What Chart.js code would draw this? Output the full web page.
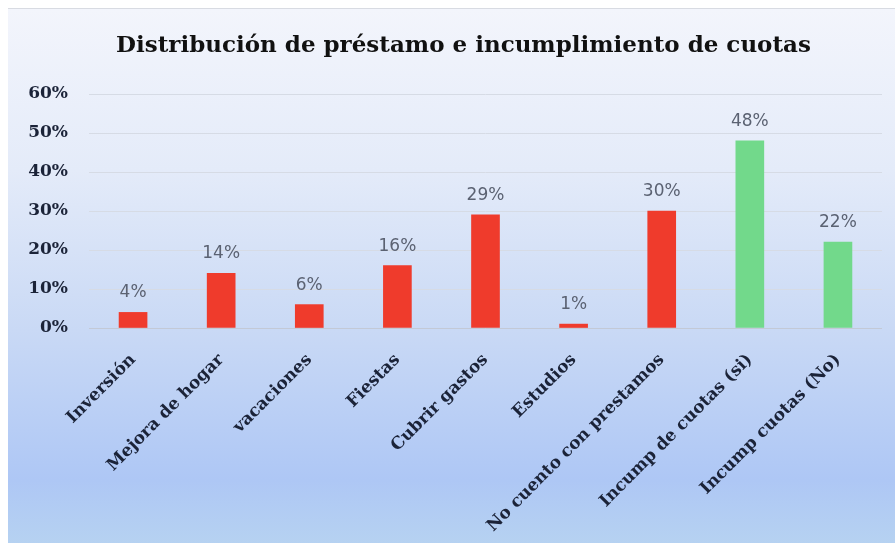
<!DOCTYPE html>
<html lang="es">
<head>
<meta charset="utf-8">
<title>Distribución de préstamo e incumplimiento de cuotas</title>
<script src="https://cdn.jsdelivr.net/npm/chart.js@4/dist/chart.umd.min.js"></script>
<style>
  html, body { margin: 0; padding: 0; background: #fff; }
  #wrap {
    position: absolute; left: 8px; top: 8px; width: 887px; height: 535px;
    background: linear-gradient(to bottom, #f3f5fc 0%, #e4ebf9 30%, #c9d9f5 60%, #aec7f5 88%, #b6d2f1 100%);
    border-top: 1px solid #d8dbe2;
  }
</style>
</head>
<body>
<div id="wrap"><canvas id="myChart"></canvas></div>
<script>
// categorias del eje x
const categorias = [
    'Inversión', 'Mejora de hogar', 'vacaciones', 'Fiestas', 'Cubrir gastos',
    'Estudios', 'No cuento con prestamos', 'Incump de cuotas (si)', 'Incump cuotas (No)'
]
// porcentaje de cada categoria
const porcentajes = [4, 14, 6, 16, 29, 1, 30, 48, 22]
// grupo al que pertenece cada barra
const grupos = ['prestamo', 'prestamo', 'prestamo', 'prestamo', 'prestamo', 'prestamo', 'prestamo', 'cuotas', 'cuotas']
const titulo = 'Distribución de préstamo e incumplimiento de cuotas'

const colorGrupo = { prestamo: '#ef3b2c', cuotas: '#72d98b' }

// titulo dibujado a mano, un poco corrido a la derecha del centro
const tituloPlugin = {
    id: 'tituloPlugin',
    afterDraw(chart) {
        const ctx = chart.ctx
        ctx.save()
        ctx.font = 'bold 23px "DejaVu Serif"'
        ctx.fillStyle = '#111'
        ctx.textAlign = 'center'
        ctx.textBaseline = 'middle'
        ctx.fillText(titulo, chart.width / 2 + 12, 37)
        ctx.restore()
    }
}

// etiquetas de valor encima de cada barra
const valueLabels = {
    id: 'valueLabels',
    afterDatasetsDraw(chart) {
        const ctx = chart.ctx
        const meta = chart.getDatasetMeta(0)
        ctx.save()
        ctx.font = '17px "DejaVu Sans"'
        ctx.fillStyle = '#5b6272'
        ctx.textAlign = 'center'
        ctx.textBaseline = 'bottom'
        meta.data.forEach((bar, i) => {
            ctx.fillText(porcentajes[i] + '%', bar.x, bar.y - 11)
        })
        ctx.restore()
    }
}

const data = {
    labels: categorias,
    datasets: [{
        data: porcentajes,
        backgroundColor: grupos.map(g => colorGrupo[g]),
        barThickness: 28
    }]
}

const config = {
    type: 'bar',
    data,
    options: {
        responsive: true,
        maintainAspectRatio: false,
        animation: false,
        layout: { padding: { left: 8, right: 13, top: 85, bottom: 0 } },
        plugins: {
            legend: { display: false },
            tooltip: { enabled: false },
            title: { display: false }
        },
        scales: {
            x: {
                grid: { display: false, drawTicks: false },
                border: { display: false },
                ticks: {
                    color: '#1b2338',
                    font: { family: '"DejaVu Serif"', size: 17, weight: 'bold' },
                    maxRotation: 45,
                    minRotation: 45,
                    padding: 22
                },
                afterFit(scale) { scale.height = 216 }
            },
            y: {
                min: 0,
                max: 60,
                grid: {
                    color: ctx => ctx.tick.value === 0 ? '#c3c9d6' : '#d6dbe5',
                    drawTicks: false
                },
                border: { display: false },
                ticks: {
                    stepSize: 10,
                    color: '#1b2338',
                    font: { family: '"DejaVu Serif"', size: 17, weight: 'bold' },
                    padding: 21,
                    callback: v => v + '%'
                },
                afterFit(scale) { scale.width = 73 }
            }
        }
    },
    plugins: [valueLabels, tituloPlugin]
}

const myChart = new Chart(document.getElementById('myChart'), config)
</script>
</body>
</html>
